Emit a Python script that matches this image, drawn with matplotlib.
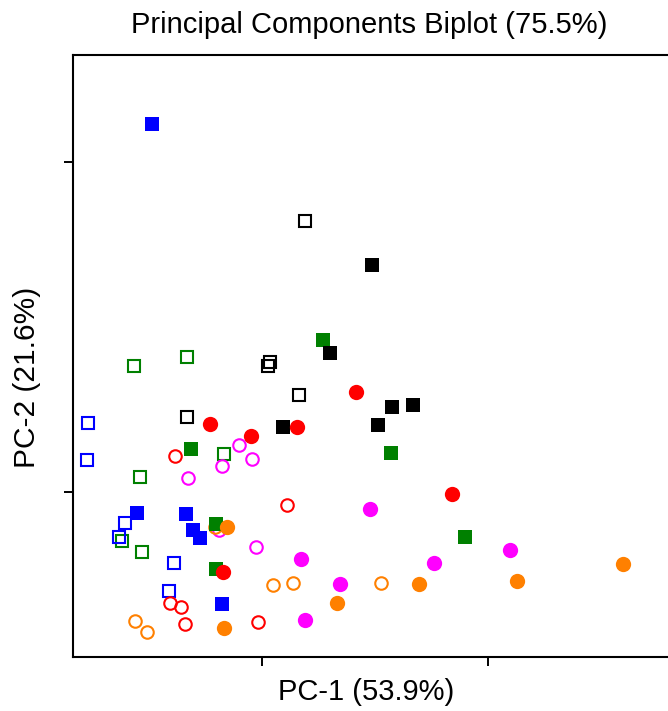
import matplotlib.pyplot as plt

plt.rcParams['font.family'] = ['Liberation Sans', 'DejaVu Sans']

# PCA scores (PC-1, PC-2), one pair of lists per group
blue_fill_x = [-2.43, -2.77, -1.68, -1.53, -1.37, -0.88]
blue_fill_y = [5.58, -0.32, -0.33, -0.58, -0.70, -1.70]
blue_open_x = [-3.85, -3.87, -3.03, -3.16, -1.95, -2.06]
blue_open_y = [1.05, 0.48, -0.47, -0.68, -1.08, -1.50]

black_fill_x = [2.43, 1.50, 2.88, 3.34, 2.57, 0.46]
black_fill_y = [3.44, 2.11, 1.29, 1.32, 1.02, 0.98]
black_open_x = [0.95, 0.18, 0.13, 0.82, -1.66]
black_open_y = [4.11, 1.97, 1.91, 1.47, 1.14]

green_fill_x = [1.35, -1.57, 2.85, -1.02, 4.49, -1.02]
green_fill_y = [2.30, 0.65, 0.59, -0.48, -0.68, -1.17]
green_open_x = [-2.83, -1.66, -0.84, -2.70, -2.65, -3.10]
green_open_y = [1.91, 2.05, 0.58, 0.23, -0.91, -0.74]

red_fill_x = [-1.15, -0.24, 0.77, 2.08, 4.20, -0.86]
red_fill_y = [1.03, 0.85, 0.98, 1.52, -0.03, -1.21]
red_open_x = [-1.92, 0.55, -2.04, -1.79, -1.70, -0.09]
red_open_y = [0.55, -0.20, -1.68, -1.74, -2.00, -1.97]

mag_fill_x = [2.39, 0.86, 3.81, 5.49, 1.73, 0.95]
mag_fill_y = [-0.26, -1.02, -1.08, -0.88, -1.39, -1.94]
mag_open_x = [-0.51, -0.22, -0.88, -1.64, -0.95, -0.13]
mag_open_y = [0.71, 0.50, 0.39, 0.21, -0.58, -0.83]

orange_fill_x = [-0.77, 7.99, 5.64, 3.47, 1.66, -0.84]
orange_fill_y = [-0.53, -1.09, -1.35, -1.39, -1.68, -2.06]
orange_open_x = [-1.04, 0.24, 0.69, 2.63, -2.81, -2.54]
orange_open_y = [-0.53, -1.41, -1.38, -1.38, -1.95, -2.12]

fig = plt.figure(figsize=(6.68, 7.11), dpi=100)
ax = fig.add_axes([0.1093, 0.0759, 0.8967, 0.8467])

# open symbols first, filled ones drawn on top
ax.plot(green_open_x, green_open_y, 's', ms=8, mfc='none', mec='#008000', mew=1.5)
ax.plot(blue_open_x, blue_open_y, 's', ms=8, mfc='none', mec='#0000FF', mew=1.5)
ax.plot(black_open_x, black_open_y, 's', ms=8, mfc='none', mec='black', mew=1.5)
ax.plot(red_open_x, red_open_y, 'o', ms=9, mfc='none', mec='#FF0000', mew=1.5)
ax.plot(mag_open_x, mag_open_y, 'o', ms=9, mfc='none', mec='#FF00FF', mew=1.5)
ax.plot(orange_open_x, orange_open_y, 'o', ms=9, mfc='none', mec='#FF8000', mew=1.5)

ax.plot(green_fill_x, green_fill_y, 's', ms=9.4, color='#008000', mew=0)
ax.plot(black_fill_x, black_fill_y, 's', ms=9.4, color='black', mew=0)
ax.plot(blue_fill_x, blue_fill_y, 's', ms=9.4, color='#0000FF', mew=0)
ax.plot(mag_fill_x, mag_fill_y, 'o', ms=11, color='#FF00FF', mew=0)
ax.plot(red_fill_x, red_fill_y, 'o', ms=11, color='#FF0000', mew=0)
ax.plot(orange_fill_x, orange_fill_y, 'o', ms=11, color='#FF8000', mew=0)

ax.set_xlim(-4.18, 9.07)
ax.set_ylim(-2.5, 6.62)
ax.set_xticks([0, 5])
ax.set_yticks([0, 5])
ax.set_xticklabels([])
ax.set_yticklabels([])
ax.tick_params(length=6.5, width=1.4, color='black')
for s in ax.spines.values():
    s.set_linewidth(1.5)
ax.spines['right'].set_visible(False)

fig.text(369 / 668, 1 - 25 / 711, 'Principal Components Biplot (75.5%)',
         ha='center', va='center', fontsize=21)
fig.text(366 / 668, 1 - 692 / 711, 'PC-1 (53.9%)',
         ha='center', va='center', fontsize=21)
fig.text(27 / 668, 1 - 377 / 711, 'PC-2 (21.6%)', rotation=90,
         ha='center', va='center', fontsize=21.5)

plt.savefig('out.png', dpi=100)
